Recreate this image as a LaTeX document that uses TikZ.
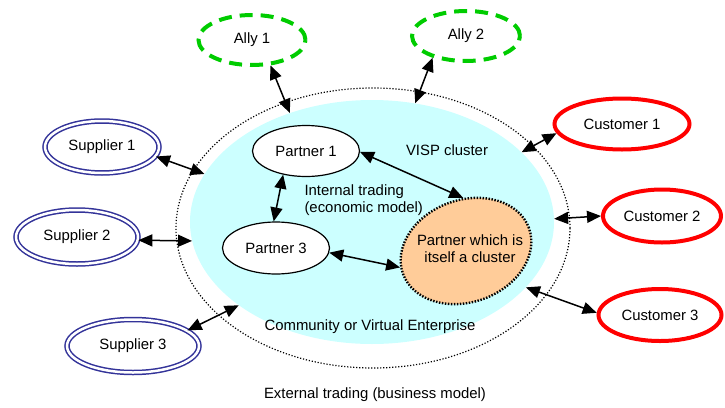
\documentclass[tikz,border=0pt]{standalone}
\usepackage{fontspec}
\setmainfont{Liberation Sans}
\usetikzlibrary{shapes.geometric,arrows.meta}
\definecolor{vispcyan}{RGB}{204,255,255}
\definecolor{allygreen}{RGB}{0,204,0}
\definecolor{supblue}{RGB}{51,51,153}
\definecolor{custred}{RGB}{255,0,0}
\definecolor{peach}{RGB}{255,204,153}
\begin{document}
\begin{tikzpicture}[x=1pt,y=-1pt,
  font=\fontsize{14.9}{17}\selectfont,
  el/.style={ellipse, inner sep=0pt, text=black},
  ally/.style={el, draw=allygreen, line width=4pt, dash pattern=on 13pt off 8pt},
  supplier/.style={el, draw=supblue, double=white, double distance=2.5pt, line width=1.5pt},
  customer/.style={el, draw=custred, line width=4pt},
  partner/.style={el, draw=black, line width=1.2pt, fill=white},
  link/.style={line width=1.5pt, {Triangle[length=14pt,width=12pt]}-{Triangle[length=14pt,width=12pt]}},
]
\useasboundingbox (0,0) rectangle (725,407);

% cluster regions
\node[el, draw=black, line width=1.2pt, dash pattern=on 1.2pt off 1.8pt,
      minimum width=394pt, minimum height=280pt] (outer) at (373,228) {};
\node[el, fill=vispcyan, minimum width=364pt, minimum height=244pt] (visp) at (372,222) {};

% allies
\node[ally, minimum width=107pt, minimum height=50pt] (a1) at (252,40) {Ally 1};
\node[ally, minimum width=108pt, minimum height=50pt] (a2) at (466,36) {Ally 2};

% suppliers
\node[supplier, minimum width=114pt, minimum height=52pt] (s1) at (102,147) {Supplier 1};
\node[supplier, minimum width=122pt, minimum height=54pt] (s2) at (77,237) {Supplier 2};
\node[supplier, minimum width=132pt, minimum height=53pt] (s3) at (133,346) {Supplier 3};

% customers
\node[customer, minimum width=135pt, minimum height=51pt] (c1) at (622,124) {Customer 1};
\node[customer, minimum width=118pt, minimum height=53pt] (c2) at (662,216) {Customer 2};
\node[customer, minimum width=123pt, minimum height=52pt] (c3) at (660,315) {Customer 3};

% partners
\node[partner, minimum width=107pt, minimum height=51pt] (p1) at (306,151) {Partner 1};
\node[partner, minimum width=107pt, minimum height=52pt] (p3) at (276,248) {Partner 3};
\node[el, draw=black, fill=peach, line width=2.4pt, dash pattern=on 1.5pt off 1.5pt,
      minimum width=134pt, minimum height=102pt, rotate=20] (pc) at (466,251) {};
\node[align=center] (pct) at (470,249) {Partner which is\\itself a cluster};

% labels
\node (vispl) at (447,150) {VISP cluster};
\node[anchor=west, align=left] (itl) at (301,200) {Internal trading\\(economic model)};
\node (cve) at (370,327) {Community or Virtual Enterprise};
\node (ext) at (375,395) {External trading (business model)};

% external links
\draw[link] (a1.-54) -- (visp.127);
\draw[link] (a2.-147) -- (visp.70);
\draw[link] (s1.-10) -- (visp.164);
\draw[link] (s2.-3) -- (visp.-174);
\draw[link] (s3.16) -- (visp.-148);
\draw[link] (c1.-172) -- (visp.25);
\draw[link] (c2.180) -- (visp.1.6);
\draw[link] (c3.178) -- (visp.-23);

% internal links
\draw[link] (p1.-134) -- (p3.95);
\draw[link] (p1.-1) -- (pc.73);
\draw[link] (p3.-5) -- (pc.174);
\end{tikzpicture}
\end{document}
